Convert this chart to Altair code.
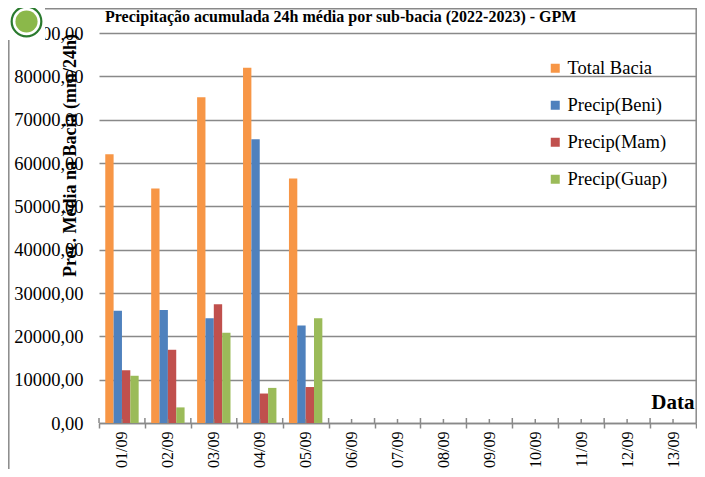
import altair as alt
import pandas as pd

dates = ["01/09", "02/09", "03/09", "04/09", "05/09", "06/09", "07/09",
         "08/09", "09/09", "10/09", "11/09", "12/09", "13/09"]
series = ["Total Bacia", "Precip(Beni)", "Precip(Mam)", "Precip(Guap)"]
colors = ["#F79646", "#4F81BD", "#C0504D", "#9BBB59"]
total = [62000, 54100, 75200, 82000, 56400]
beni = [25900, 26100, 24200, 65500, 22500]
mam = [12200, 16900, 27400, 6800, 8300]
guap = [10900, 3600, 20800, 8100, 24200]
y_ticks = [0, 10000, 20000, 30000, 40000, 50000, 60000, 70000, 80000, 90000]
title_text = "Precipitação acumulada 24h média por sub-bacia (2022-2023) - GPM"

rows = []
for s, vals in zip(series, [total, beni, mam, guap]):
    for d, v in zip(dates, vals):
        rows.append({"date": d, "serie": s, "valor": v})
df = pd.DataFrame(rows)
dates_df = pd.DataFrame({"date": dates})
one = pd.DataFrame({"k": [0]})

W, H = 597, 390
FONT = "Liberation Serif"
GRID = "#898989"

xscale = alt.Scale(domain=dates, paddingInner=0, paddingOuter=0)

bars = alt.Chart(df).mark_bar(strokeWidth=0).encode(
    x=alt.X("date:N", scale=xscale, sort=dates,
            axis=alt.Axis(title="Data", titleFont=FONT, titleFontSize=21,
                          titleFontWeight="bold", titleColor="black",
                          titleX=595, titleY=-15, titleAlign="right",
                          titleBaseline="alphabetic", titleAngle=0,
                          labelAngle=-90, labelFont=FONT, labelFontSize=16,
                          labelColor="black", labelPadding=3,
                          labelOverlap=False,
                          tickBand="extent", tickSize=5, tickColor=GRID,
                          tickWidth=1.5, domainColor=GRID, domainWidth=1.5,
                          grid=False, zindex=0)),
    xOffset=alt.XOffset("serie:N", sort=series,
                        scale=alt.Scale(domain=series, paddingInner=0,
                                        paddingOuter=0.75)),
    y=alt.Y("valor:Q", scale=alt.Scale(domain=[0, 90000], nice=False),
            axis=alt.Axis(values=y_ticks,
                          labelExpr="replace(format(datum.value, '.2f'), '.', ',')",
                          labelFont=FONT, labelFontSize=18.5, labelColor="black",
                          labelPadding=16, ticks=False, domain=False,
                          labelOverlap=False, labelFlush=False,
                          grid=True, gridColor=GRID, gridWidth=1.5,
                          title="Prec. Média na Bacia (mm/24h)", titleFont=FONT,
                          titleFontSize=18, titleFontWeight="bold",
                          titleColor="black", titleX=-29, titleY=122,
                          titleAlign="center", titleBaseline="middle",
                          zindex=0)),
    color=alt.Color("serie:N", sort=series,
                    scale=alt.Scale(domain=series, range=colors),
                    legend=alt.Legend(orient="none", legendX=447, legendY=26,
                                      padding=0,
                                      title=None, symbolType="square",
                                      symbolSize=81, symbolStrokeWidth=0,
                                      labelFont=FONT, labelFontSize=18.5,
                                      labelColor="black", rowPadding=18,
                                      labelOffset=3)),
)

minor_ticks = alt.Chart(dates_df).mark_rule(color=GRID, strokeWidth=1.5).encode(
    x=alt.X("date:N", scale=xscale, sort=dates),
    y=alt.value(H - 4), y2=alt.value(H),
)
major_up = alt.Chart(dates_df).mark_rule(color=GRID, strokeWidth=1.5).encode(
    x=alt.X("date:N", scale=xscale, sort=dates, bandPosition=0),
    y=alt.value(H - 5), y2=alt.value(H),
)

frame_left = alt.Chart(one).mark_rule(color=GRID, strokeWidth=1.5).encode(
    x=alt.value(-90.2), y=alt.value(-25), y2=alt.value(H + 46))
frame_top = alt.Chart(one).mark_rule(color=GRID, strokeWidth=1.5).encode(
    x=alt.value(-91), x2=alt.value(W + 1), y=alt.value(-24.2))
frame_right = alt.Chart(one).mark_rule(color=GRID, strokeWidth=1.5).encode(
    x=alt.value(W + 0.2), y=alt.value(-25), y2=alt.value(H))

title_mark = alt.Chart(one).mark_text(
    text=title_text, font=FONT, fontSize=16, fontWeight="bold", color="black",
    align="left", baseline="alphabetic").encode(
    x=alt.value(6), y=alt.value(-11))

LX, LY = -72.5, -11.5
logo_bg = alt.Chart(one).mark_square(size=1369, color="white", opacity=1).encode(
    x=alt.value(LX), y=alt.value(LY))
logo_ring = alt.Chart(one).mark_circle(size=1017, color="#2a7a2e", opacity=1).encode(
    x=alt.value(LX), y=alt.value(LY))
logo_white = alt.Chart(one).mark_circle(size=755, color="white", opacity=1).encode(
    x=alt.value(LX), y=alt.value(LY))
logo_leaf = alt.Chart(one).mark_circle(size=490, color="#8bb84a", opacity=1).encode(
    x=alt.value(LX), y=alt.value(LY))

chart = alt.layer(
    bars, minor_ticks, major_up, frame_left, frame_top, frame_right,
    title_mark, logo_bg, logo_ring, logo_white, logo_leaf,
).properties(
    width=W, height=H,
    autosize=alt.AutoSizeParams(type="none"),
    padding={"left": 91, "top": 25, "right": 1, "bottom": 46},
    background="white",
).configure_view(stroke=None)

chart.save("out.html", embed_options={"renderer": "svg", "actions": False})
